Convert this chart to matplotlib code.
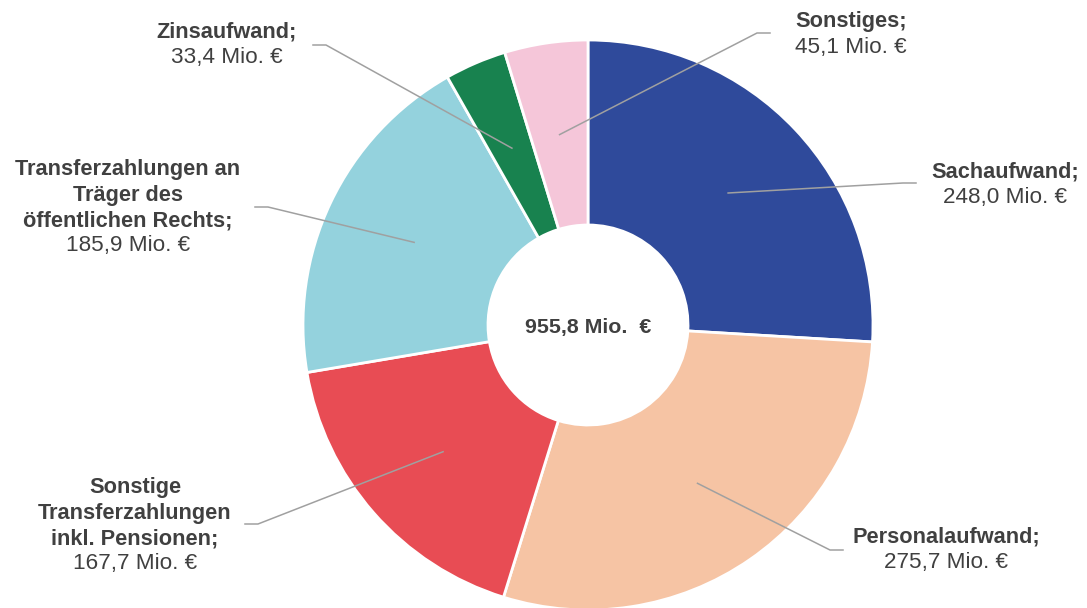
import numpy as np
from matplotlib import pyplot as plt

# Aufwandsarten und Beträge (Mio. €), im Uhrzeigersinn ab 12 Uhr
kategorien = ["Sachaufwand", "Personalaufwand",
              "Sonstige\nTransferzahlungen\ninkl. Pensionen",
              "Transferzahlungen an\nTräger des\nöffentlichen Rechts",
              "Zinsaufwand", "Sonstiges"]
werte = [248.0, 275.7, 167.7, 185.9, 33.4, 45.1]
farben = ["#2f4a9b", "#f6c4a4", "#e84c54", "#94d2dd", "#18824f", "#f5c6d9"]

# Position der Beschriftung (Mitte x, oberste Zeile y) und Ende der Führungslinie
text_pos = [(1005, 172), (946, 537), (135, 488), (128, 170), (227, 32), (851, 22)]
linien_ende = [(916, 183), (843, 550), (245, 524), (255, 207), (313, 45), (770, 33)]

B, H = 1087, 608
fig = plt.figure(figsize=(B / 100, H / 100), dpi=100)
ax = fig.add_axes([0, 0, 1, 1])

cx, cy = 588, 325
r_aussen, r_innen = 285, 100
plt.rcParams['font.family'] = ['Liberation Sans', 'DejaVu Sans']
grau = "#404040"

# Ring zeichnen (y-Achse ist umgedreht, daher counterclock=True -> im Uhrzeigersinn)
wedges, _ = ax.pie(werte, colors=farben, startangle=-90, counterclock=True,
                   center=(cx, cy), radius=r_aussen, frame=True,
                   wedgeprops=dict(width=r_aussen - r_innen, edgecolor='white', linewidth=2))
ax.set_xlim(0, B)
ax.set_ylim(H, 0)
ax.set_aspect('equal')
ax.axis('off')

summe = sum(werte)
kum = 0
r_mitte = (r_aussen + r_innen) / 2
for i, (name, wert) in enumerate(zip(kategorien, werte)):
    mitte = (kum + wert / 2) / summe * 2 * np.pi
    kum += wert
    px = cx + r_mitte * np.sin(mitte)
    py = cy - r_mitte * np.cos(mitte)
    ex, ey = linien_ende[i]
    knick = ex - 13 if ex > cx else ex + 13
    ax.plot([px, knick, ex], [py, ey, ey], color='#a0a0a0', lw=1.1)

    tx, ty = text_pos[i]
    zeilen = (name + ";").split("\n")
    for j, z in enumerate(zeilen):
        ax.text(tx, ty + j * 25.3, z, ha='center', va='center',
                fontsize=15.7, fontweight='bold', color=grau)
    wert_txt = f"{wert:.1f}".replace(".", ",") + " Mio. €"
    ax.text(tx, ty + len(zeilen) * 25.3, wert_txt, ha='center', va='center',
            fontsize=16.2, color=grau)

ax.text(cx, 327, f"{summe:.1f}".replace(".", ",") + " Mio.  €", ha='center',
        va='center', fontsize=15.4, fontweight='bold', color=grau)

plt.savefig("out.png", dpi=100)
